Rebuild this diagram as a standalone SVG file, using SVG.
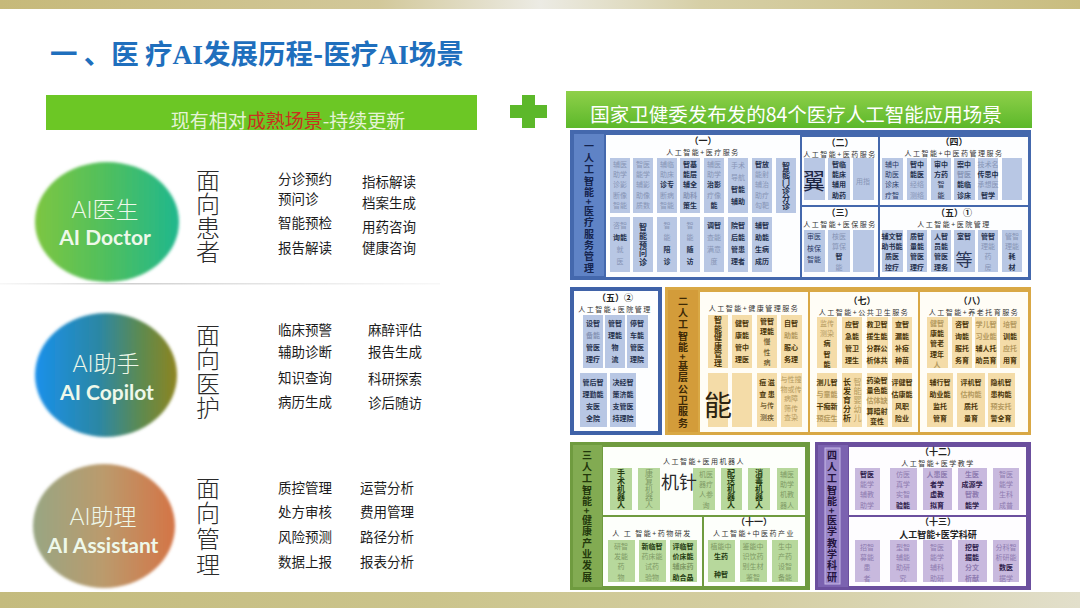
<svg xmlns="http://www.w3.org/2000/svg" width="1080" height="608" viewBox="0 0 1080 608">
<defs>
<linearGradient id="gTop" x1="0" x2="1" y1="0" y2="0"><stop offset="0" stop-color="#c6b97a"/><stop offset="0.35" stop-color="#d2c89a"/><stop offset="0.5" stop-color="#ecebe4"/><stop offset="0.65" stop-color="#d6cfa6"/><stop offset="1" stop-color="#c9bd80"/></linearGradient>
<linearGradient id="gBot" x1="0" x2="1" y1="0" y2="0"><stop offset="0" stop-color="#c4bb7e"/><stop offset="0.4" stop-color="#cbc48c"/><stop offset="0.7" stop-color="#d4cea2"/><stop offset="1" stop-color="#e2dfcb"/></linearGradient>
<linearGradient id="gDoc" x1="0" x2="1" y1="0" y2="0"><stop offset="0" stop-color="#7dc641"/><stop offset="0.5" stop-color="#4fbf5e"/><stop offset="1" stop-color="#1fb78d"/></linearGradient>
<linearGradient id="gCop" x1="0" x2="1" y1="0" y2="0"><stop offset="0" stop-color="#1a90ea"/><stop offset="0.45" stop-color="#2b87a4"/><stop offset="0.75" stop-color="#5e8a4e"/><stop offset="1" stop-color="#8d8420"/></linearGradient>
<linearGradient id="gAss" x1="0" x2="1" y1="0" y2="0"><stop offset="0" stop-color="#98a683"/><stop offset="0.5" stop-color="#bb9a6c"/><stop offset="1" stop-color="#d47446"/></linearGradient>
<linearGradient id="gBar" x1="0" x2="0" y1="0" y2="1"><stop offset="0" stop-color="#8fd04a"/><stop offset="1" stop-color="#5cb82a"/></linearGradient>
<linearGradient id="gLine" x1="0" x2="1" y1="0" y2="0"><stop offset="0" stop-color="#d8d8d8" stop-opacity="0.2"/><stop offset="0.3" stop-color="#cfcfcf"/><stop offset="1" stop-color="#e6e6e6" stop-opacity="0.3"/></linearGradient>
<filter id="soft" x="-10%" y="-10%" width="120%" height="120%"><feGaussianBlur stdDeviation="1.6"/></filter>
<style>
.cjk{font-family:"Noto Sans CJK SC","Noto Sans",sans-serif}
.item{font-family:"Noto Sans CJK SC",sans-serif;font-size:13.5px;fill:#1c1c1c}
.face{font-family:"Noto Sans CJK SC",sans-serif;font-size:24px;font-weight:300;fill:#2a2a2a;text-anchor:middle;writing-mode:vertical-rl}
.en{font-family:Lato,"Open Sans",sans-serif;fill:#eef8ea;text-anchor:middle}
.c{font-family:"Noto Sans CJK SC",sans-serif;font-size:7px;text-anchor:middle}
.v{writing-mode:vertical-rl;font-size:8px}
.d{fill:#26324e;font-weight:700}
.f{fill:#8795b6}
.dg{fill:#4a3508;font-weight:700}
.fg{fill:#b49a60}
.dgr{fill:#253d12;font-weight:700}
.fgr{fill:#7f9a66}
.dp{fill:#2e1c4c;font-weight:700}
.fp{fill:#8e7bb0}
.hd{font-family:"Noto Sans CJK SC",sans-serif;font-size:9px;font-weight:700;text-anchor:middle;fill:#222}
.sub{font-family:"Noto Sans CJK SC",sans-serif;font-size:7px;font-weight:400;text-anchor:middle;fill:#333;letter-spacing:1.5px}
.strip{font-family:"Noto Sans CJK SC",sans-serif;font-size:10px;font-weight:700;text-anchor:middle;writing-mode:vertical-rl;letter-spacing:1.4px}
.cb{fill:#b8c7e4}
.cy{fill:#f4dca8}
.cgn{fill:#b7d89c}
.cpu{fill:#c8b9de}
</style>
</defs>

<rect x="0" y="0" width="1080" height="608" fill="#ffffff"/>
<rect x="0" y="0" width="1080" height="9" fill="url(#gTop)"/>
<rect x="0" y="592" width="1080" height="16" fill="url(#gBot)"/>

<g id="title">
<text x="50" y="64" class="cjk" font-size="27.5" font-weight="700" fill="#1f6fbd">一 、医 疗<tspan font-family="'Liberation Serif',serif">AI</tspan>发展历程-医疗<tspan font-family="'Liberation Serif',serif">AI</tspan>场景</text>
</g>

<g id="bar-left">
<rect x="46" y="95" width="431" height="35" fill="#6cc725"/>
<text x="288" y="128" class="cjk" font-size="19" text-anchor="middle" fill="#e4f3d6">现有相对<tspan fill="#c8321e">成熟场景</tspan>-持续更新</text>
</g>

<g id="plus">
<rect x="522" y="95" width="13" height="33" fill="#5cb82a"/>
<rect x="510" y="105" width="37" height="13" fill="#5cb82a"/>
</g>

<g id="bar-right">
<rect x="566" y="91" width="466" height="37" fill="url(#gBar)"/>
<text x="796" y="122" class="cjk" font-size="19.5" text-anchor="middle" fill="#ffffff">国家卫健委发布发的84个医疗人工智能应用场景</text>
</g>

<rect x="0" y="283" width="440" height="1.5" fill="url(#gLine)"/>

<g id="ai-doctor">
<ellipse cx="107" cy="222" rx="72" ry="60" fill="url(#gDoc)" filter="url(#soft)"/>
<text x="105" y="217.5" class="en" font-size="23" font-weight="300">AI<tspan font-family="'Noto Sans CJK SC',sans-serif">医生</tspan></text>
<text x="105" y="245" class="en" font-size="21" font-weight="700">AI Doctor</text>
</g>
<g id="face-patient">
<text class="face" x="208" y="216">面向患者</text>
</g>
<g id="items-patient">
<text class="item" x="278" y="184">分诊预约</text>
<text class="item" x="278" y="204">预问诊</text>
<text class="item" x="278" y="228">智能预检</text>
<text class="item" x="278" y="253">报告解读</text>
<text class="item" x="362" y="187">指标解读</text>
<text class="item" x="362" y="208">档案生成</text>
<text class="item" x="362" y="232">用药咨询</text>
<text class="item" x="362" y="253">健康咨询</text>
</g>

<g id="ai-copilot">
<ellipse cx="106" cy="375" rx="71" ry="62" fill="url(#gCop)" filter="url(#soft)"/>
<text x="106" y="372" class="en" font-size="23" font-weight="300">AI<tspan font-family="'Noto Sans CJK SC',sans-serif">助手</tspan></text>
<text x="107" y="399.5" class="en" font-size="21" font-weight="700">AI Copilot</text>
</g>
<g id="face-staff">
<text class="face" x="208" y="371.5" letter-spacing="0.4">面向医护</text>
</g>
<g id="items-staff">
<text class="item" x="278" y="335">临床预警</text>
<text class="item" x="278" y="357">辅助诊断</text>
<text class="item" x="278" y="383">知识查询</text>
<text class="item" x="278" y="407">病历生成</text>
<text class="item" x="368" y="335">麻醉评估</text>
<text class="item" x="368" y="357">报告生成</text>
<text class="item" x="368" y="384">科研探索</text>
<text class="item" x="368" y="408">诊后随访</text>
</g>

<g id="ai-assistant">
<ellipse cx="104" cy="526" rx="71" ry="62" fill="url(#gAss)" filter="url(#soft)"/>
<text x="103" y="525" class="en" font-size="23" font-weight="300">AI<tspan font-family="'Noto Sans CJK SC',sans-serif">助理</tspan></text>
<text x="103" y="552.5" class="en" font-size="21" font-weight="700">AI Assistant</text>
</g>
<g id="face-mgmt">
<text class="face" x="208" y="527" letter-spacing="1.7">面向管理</text>
</g>
<g id="items-mgmt">
<text class="item" x="278" y="493">质控管理</text>
<text class="item" x="278" y="517">处方审核</text>
<text class="item" x="278" y="542">风险预测</text>
<text class="item" x="278" y="567">数据上报</text>
<text class="item" x="360" y="493">运营分析</text>
<text class="item" x="360" y="517">费用管理</text>
<text class="item" x="360" y="542">路径分析</text>
<text class="item" x="360" y="567">报表分析</text>
</g>

<!-- Block 1: medical service management -->
<g id="block-medical">
<rect x="570" y="130" width="461" height="150" fill="#4468ad"/>
<rect x="574" y="134" width="30" height="142" fill="#5f83c6"/>
<text class="strip" x="589" y="208" fill="#15244e">一人工智能+医疗服务管理</text>
<rect x="606" y="135" width="194" height="142" fill="#fdfeff"/>
<rect x="802" y="137" width="76" height="68" fill="#fdfeff"/>
<rect x="802" y="207" width="76" height="70" fill="#fdfeff"/>
<rect x="880" y="137" width="148" height="68" fill="#fdfeff"/>
<rect x="880" y="207" width="148" height="70" fill="#fdfeff"/>

<text class="hd" x="703" y="144">（一）</text>
<text class="sub" x="703" y="155">人工智能+医疗服务</text>
<rect class="cb" x="610" y="158" width="20" height="55"/><rect class="cb" x="633" y="158" width="20" height="55"/><rect class="cb" x="657" y="158" width="20" height="55"/><rect class="cb" x="680" y="158" width="20" height="55"/><rect class="cb" x="704" y="158" width="20" height="55"/><rect class="cb" x="728" y="158" width="20" height="55"/><rect class="cb" x="752" y="158" width="20" height="55"/><rect class="cb" x="776" y="158" width="20" height="55"/>
<text class="c f" x="620" y="167"><tspan x="620">辅医</tspan><tspan x="620" dy="10.2">助学</tspan><tspan x="620" dy="10.2">诊影</tspan><tspan x="620" dy="10.2">断像</tspan><tspan x="620" dy="10.2">智能</tspan></text>
<text class="c f" x="643" y="167"><tspan x="643">智医</tspan><tspan x="643" dy="10.2">能学</tspan><tspan x="643" dy="10.2">辅影</tspan><tspan x="643" dy="10.2">助像</tspan><tspan x="643" dy="10.2">质数</tspan></text>
<text class="c f" x="667" y="167"><tspan x="667">辅临</tspan><tspan x="667" dy="10.2">助床</tspan><tspan x="667" dy="10.2" class="d">诊专</tspan><tspan x="667" dy="10.2">断病</tspan><tspan x="667" dy="10.2">智能</tspan></text>
<text class="c d" x="690" y="167"><tspan x="690">智基</tspan><tspan x="690" dy="10.2">能层</tspan><tspan x="690" dy="10.2">辅全</tspan><tspan x="690" dy="10.2" class="f">助科</tspan><tspan x="690" dy="10.2">策生</tspan></text>
<text class="c f" x="714" y="167"><tspan x="714">辅医</tspan><tspan x="714" dy="10.2">助学</tspan><tspan x="714" dy="10.2" class="d">治影</tspan><tspan x="714" dy="10.2">疗像</tspan><tspan x="714" dy="10.2" class="d">能</tspan></text>
<text class="c f" x="738" y="168"><tspan x="738">手术</tspan><tspan x="738" dy="12">导航</tspan><tspan x="738" dy="12" class="d">智能</tspan><tspan x="738" dy="12" class="d">辅助</tspan></text>
<text class="c f" x="762" y="167"><tspan x="762" class="d">智放</tspan><tspan x="762" dy="10.2">能射</tspan><tspan x="762" dy="10.2">辅治</tspan><tspan x="762" dy="10.2">助疗</tspan><tspan x="762" dy="10.2">勾靶</tspan></text>
<text class="c d v" x="786" y="185.5" font-size="8.5">智能门诊分诊</text>

<rect class="cb" x="610" y="217" width="20" height="55"/><rect class="cb" x="633" y="217" width="20" height="55"/><rect class="cb" x="657" y="217" width="20" height="55"/><rect class="cb" x="680" y="217" width="20" height="55"/><rect class="cb" x="704" y="217" width="20" height="55"/><rect class="cb" x="728" y="217" width="20" height="55"/><rect class="cb" x="752" y="217" width="20" height="55"/>
<text class="c f" x="620" y="228"><tspan x="620">咨智</tspan><tspan x="620" dy="12" class="d">询能</tspan><tspan x="620" dy="12">就</tspan><tspan x="620" dy="12">医</tspan></text>
<text class="c d v" x="643" y="245" font-size="9" letter-spacing="0.8">智能预问诊</text>
<text class="c f" x="667" y="228"><tspan x="667">智</tspan><tspan x="667" dy="12">能</tspan><tspan x="667" dy="12" class="d">陪</tspan><tspan x="667" dy="12" class="d">诊</tspan></text>
<text class="c f" x="690" y="228"><tspan x="690">智</tspan><tspan x="690" dy="12">能</tspan><tspan x="690" dy="12" class="d">随</tspan><tspan x="690" dy="12" class="d">访</tspan></text>
<text class="c f" x="714" y="228"><tspan x="714" class="d">调智</tspan><tspan x="714" dy="12">查能</tspan><tspan x="714" dy="12">满意</tspan><tspan x="714" dy="12">度</tspan></text>
<text class="c d" x="738" y="228"><tspan x="738">院智</tspan><tspan x="738" dy="12">后能</tspan><tspan x="738" dy="12">管患</tspan><tspan x="738" dy="12">理者</tspan></text>
<text class="c d" x="762" y="228"><tspan x="762">辅智</tspan><tspan x="762" dy="12">助能</tspan><tspan x="762" dy="12">生病</tspan><tspan x="762" dy="12">成历</tspan></text>

<text class="hd" x="840" y="146">（二）</text>
<text class="sub" x="840" y="157">人工智能+医药服务</text>
<rect class="cb" x="804" y="158" width="21" height="42"/><rect class="cb" x="828" y="158" width="22" height="42"/><rect class="cb" x="853" y="158" width="21" height="42"/>
<text class="cjk" x="814" y="189" font-size="22" text-anchor="middle" fill="#1b2340">翼</text>
<text class="c d" x="839" y="167"><tspan x="839">智临</tspan><tspan x="839" dy="10.2">能床</tspan><tspan x="839" dy="10.2">辅用</tspan><tspan x="839" dy="10.2">助药</tspan></text>
<text class="c f" x="863" y="184">用指</text>

<text class="hd" x="840" y="216">（三）</text>
<text class="sub" x="840" y="227">人工智能+医保服务</text>
<rect class="cb" x="804" y="230" width="21" height="42"/><rect class="cb" x="828" y="230" width="22" height="42"/><rect class="cb" x="853" y="230" width="21" height="42"/>
<text class="c" x="814" y="239" fill="#2a3a66" font-size="8"><tspan x="814">审医</tspan><tspan x="814" dy="11.6">核保</tspan><tspan x="814" dy="11.6">智能</tspan></text>
<text class="c f" x="839" y="239"><tspan x="839">核医</tspan><tspan x="839" dy="10.2">算保</tspan><tspan x="839" dy="10.2" class="d">智</tspan><tspan x="839" dy="10.2">能</tspan></text>

<text class="hd" x="954" y="145">（四）</text>
<text class="sub" x="954" y="156">人工智能+中医药管理服务</text>
<rect class="cb" x="882" y="158" width="21" height="42"/><rect class="cb" x="907" y="158" width="20" height="42"/><rect class="cb" x="931" y="158" width="20" height="42"/><rect class="cb" x="954" y="158" width="21" height="42"/><rect class="cb" x="978" y="158" width="20" height="42"/><rect class="cb" x="1002" y="158" width="20" height="42"/>
<text class="c" x="892" y="167" fill="#2a3a66"><tspan x="892">辅中</tspan><tspan x="892" dy="10.2">助医</tspan><tspan x="892" dy="10.2">诊床</tspan><tspan x="892" dy="10.2">疗智</tspan></text>
<text class="c f" x="917" y="167"><tspan x="917" class="d">智中</tspan><tspan x="917" dy="10.2" class="d">能医</tspan><tspan x="917" dy="10.2">经络</tspan><tspan x="917" dy="10.2">测络</tspan></text>
<text class="c d" x="941" y="167"><tspan x="941">审中</tspan><tspan x="941" dy="10.2">方药</tspan><tspan x="941" dy="10.2" font-weight="400">智</tspan><tspan x="941" dy="10.2" font-weight="400">能</tspan></text>
<text class="c d" x="964" y="167"><tspan x="964">案中</tspan><tspan x="964" dy="10.2" class="f">智医</tspan><tspan x="964" dy="10.2">能临</tspan><tspan x="964" dy="10.2">诊床</tspan></text>
<text class="c f" x="988" y="167"><tspan x="988">技术名</tspan><tspan x="988" dy="10.2" class="d">传思中</tspan><tspan x="988" dy="10.2">承想医</tspan><tspan x="988" dy="10.2" class="d">智学</tspan></text>

<text class="hd" x="954" y="216">（五）①</text>
<text class="sub" x="954" y="227">人工智能+医院管理</text>
<rect class="cb" x="882" y="230" width="21" height="42"/><rect class="cb" x="907" y="230" width="20" height="42"/><rect class="cb" x="931" y="230" width="20" height="42"/><rect class="cb" x="954" y="230" width="21" height="42"/><rect class="cb" x="978" y="230" width="20" height="42"/><rect class="cb" x="1002" y="230" width="20" height="42"/>
<text class="c d" x="892" y="239"><tspan x="892">辅文智</tspan><tspan x="892" dy="10.2">助书能</tspan><tspan x="892" dy="10.2">质医</tspan><tspan x="892" dy="10.2">控疗</tspan></text>
<text class="c d" x="917" y="239"><tspan x="917">质智</tspan><tspan x="917" dy="10.2">量能</tspan><tspan x="917" dy="10.2">管医</tspan><tspan x="917" dy="10.2">理疗</tspan></text>
<text class="c d" x="941" y="239"><tspan x="941">人智</tspan><tspan x="941" dy="10.2">员能</tspan><tspan x="941" dy="10.2">管医</tspan><tspan x="941" dy="10.2">理务</tspan></text>
<text class="c d" x="964" y="239">室智</text>
<text class="cjk" x="964" y="266" font-size="17" text-anchor="middle" fill="#2a3656">等</text>
<text class="c f" x="988" y="239"><tspan x="988" class="d">管智</tspan><tspan x="988" dy="10.2">理能</tspan><tspan x="988" dy="10.2">药</tspan><tspan x="988" dy="10.2">房</tspan></text>
<text class="c f" x="1012" y="239"><tspan x="1012">管智</tspan><tspan x="1012" dy="10.2">理能</tspan><tspan x="1012" dy="10.2" class="d">耗</tspan><tspan x="1012" dy="10.2" class="d">材</tspan></text>
</g>

<!-- Block (五)② hospital management -->
<g id="block-hospital">
<rect x="570" y="287" width="92" height="148" fill="#3f62a8"/>
<rect x="574" y="291" width="84" height="140" fill="#fdfeff"/>
<text class="hd" x="615" y="301">（五）②</text>
<text class="sub" x="615" y="312" font-weight="700" letter-spacing="0.5">人工智能+医院管理</text>
<rect class="cb" x="583" y="315" width="20" height="53"/><rect class="cb" x="605" y="315" width="20" height="53"/><rect class="cb" x="627" y="315" width="21" height="53"/>
<text class="c d" x="593" y="326"><tspan x="593">设智</tspan><tspan x="593" dy="12" class="f">备能</tspan><tspan x="593" dy="12">管医</tspan><tspan x="593" dy="12">理疗</tspan></text>
<text class="c d" x="615" y="326"><tspan x="615">管智</tspan><tspan x="615" dy="12">理能</tspan><tspan x="615" dy="12">物</tspan><tspan x="615" dy="12">流</tspan></text>
<text class="c d" x="637" y="326"><tspan x="637">停智</tspan><tspan x="637" dy="12">车能</tspan><tspan x="637" dy="12">管医</tspan><tspan x="637" dy="12">理院</tspan></text>
<rect class="cb" x="580" y="373" width="27" height="54"/><rect class="cb" x="610" y="373" width="26" height="54"/>
<text class="c d" x="593" y="385"><tspan x="593">管后智</tspan><tspan x="593" dy="12">理勤能</tspan><tspan x="593" dy="12">安医</tspan><tspan x="593" dy="12">全院</tspan></text>
<text class="c d" x="623" y="385"><tspan x="623">决经智</tspan><tspan x="623" dy="12">策济能</tspan><tspan x="623" dy="12">支管医</tspan><tspan x="623" dy="12">持理院</tspan></text>
</g>

<!-- Block 2: primary public health -->
<g id="block-primary">
<rect x="665" y="287" width="366" height="148" fill="#d9a845"/>
<rect x="668" y="290" width="30" height="142" fill="#d39c3a"/>
<text class="strip" x="683" y="363" fill="#3e2a06">二人工智能+基层公卫服务</text>
<rect x="700" y="292" width="108" height="140" fill="#fffdf6"/>
<rect x="810" y="292" width="108" height="140" fill="#fffdf6"/>
<rect x="920" y="292" width="108" height="140" fill="#fffdf6"/>

<text class="sub" x="754" y="311">人工智能+健康管理服务</text>
<rect class="cy" x="708" y="315" width="20" height="53"/><rect class="cy" x="732" y="315" width="20" height="53"/><rect class="cy" x="757" y="315" width="20" height="53"/><rect class="cy" x="781" y="315" width="21" height="53"/>
<text class="c dg v" x="718" y="341.5" letter-spacing="0.5">智能健康管理</text>
<text class="c dg" x="742" y="326"><tspan x="742">健智</tspan><tspan x="742" dy="12">康能</tspan><tspan x="742" dy="12">管中</tspan><tspan x="742" dy="12">理医</tspan></text>
<text class="c dg" x="767" y="324"><tspan x="767">管智</tspan><tspan x="767" dy="10.2">理能</tspan><tspan x="767" dy="10.2" font-weight="400">慢</tspan><tspan x="767" dy="10.2" font-weight="400">性</tspan><tspan x="767" dy="10.2" font-weight="400">病</tspan></text>
<text class="c dg" x="791" y="326"><tspan x="791">自智</tspan><tspan x="791" dy="12" class="fg">助能</tspan><tspan x="791" dy="12">服心</tspan><tspan x="791" dy="12">务理</tspan></text>
<rect class="cy" x="708" y="373" width="20" height="54"/><rect class="cy" x="732" y="373" width="20" height="54"/><rect class="cy" x="757" y="373" width="20" height="54"/><rect class="cy" x="781" y="373" width="21" height="54"/>
<text class="cjk" x="718" y="416" font-size="28" text-anchor="middle" fill="#2b2210">能</text>
<text class="c dg" x="767" y="385" font-size="8"><tspan x="767">痘 滋</tspan><tspan x="767" dy="11.6">查 患</tspan><tspan x="767" dy="11.6" font-weight="400">与传</tspan><tspan x="767" dy="11.6" font-weight="400">测疾</tspan></text>
<text class="c fg" x="791" y="382" font-size="6.5"><tspan x="791">与性搜</tspan><tspan x="791" dy="9.5">物或传</tspan><tspan x="791" dy="9.5">病障</tspan><tspan x="791" dy="9.5">筛传</tspan><tspan x="791" dy="9.5">查染</tspan></text>

<text class="hd" x="862" y="304">（七）</text>
<text class="sub" x="864" y="315">人工智能+公共卫生服务</text>
<rect class="cy" x="817" y="317" width="20" height="51"/><rect class="cy" x="842" y="317" width="20" height="51"/><rect class="cy" x="867" y="317" width="21" height="51"/><rect class="cy" x="892" y="317" width="20" height="51"/>
<text class="c fg" x="827" y="326"><tspan x="827">监传</tspan><tspan x="827" dy="10.2">测染</tspan><tspan x="827" dy="10.2" class="dg">病</tspan><tspan x="827" dy="10.2" class="dg">智</tspan><tspan x="827" dy="10.2" class="dg">能</tspan></text>
<text class="c dg" x="852" y="327"><tspan x="852">应智</tspan><tspan x="852" dy="12">急能</tspan><tspan x="852" dy="12">管卫</tspan><tspan x="852" dy="12">理生</tspan></text>
<text class="c dg" x="877" y="327"><tspan x="877">救卫智</tspan><tspan x="877" dy="12">援生能</tspan><tspan x="877" dy="12">分群公</tspan><tspan x="877" dy="12">析体共</tspan></text>
<text class="c dg" x="902" y="327"><tspan x="902">查智</tspan><tspan x="902" dy="12">漏能</tspan><tspan x="902" dy="12">补疫</tspan><tspan x="902" dy="12">种苗</tspan></text>
<rect class="cy" x="817" y="373" width="20" height="54"/><rect class="cy" x="842" y="373" width="20" height="54"/><rect class="cy" x="867" y="373" width="21" height="54"/><rect class="cy" x="892" y="373" width="20" height="54"/>
<text class="c dg" x="827" y="385"><tspan x="827">测儿智</tspan><tspan x="827" dy="12" class="fg">与童能</tspan><tspan x="827" dy="12">干痴新</tspan><tspan x="827" dy="12" class="fg">预症生</tspan></text>
<text class="c dg v" x="847" y="400" letter-spacing="1">长发育分析</text>
<text class="c fg v" x="857.5" y="400" font-size="6" letter-spacing="1">智能婴幼儿</text>
<text class="c dg" x="877" y="383"><tspan x="877">药染智</tspan><tspan x="877" dy="10.2">量色能</tspan><tspan x="877" dy="10.2" class="fg">估体缺</tspan><tspan x="877" dy="10.2">算暗射</tspan><tspan x="877" dy="10.2">变性</tspan></text>
<text class="c dg" x="902" y="385"><tspan x="902">评健智</tspan><tspan x="902" dy="12">估康能</tspan><tspan x="902" dy="12">风职</tspan><tspan x="902" dy="12">险业</tspan></text>

<text class="hd" x="972" y="304">（八）</text>
<text class="sub" x="974" y="315">人工智能+养老托育服务</text>
<rect class="cy" x="927" y="317" width="21" height="51"/><rect class="cy" x="952" y="317" width="20" height="51"/><rect class="cy" x="975" y="317" width="22" height="51"/><rect class="cy" x="1000" y="317" width="20" height="51"/>
<text class="c dg" x="937" y="326"><tspan x="937" class="fg">健智</tspan><tspan x="937" dy="10.2">康能</tspan><tspan x="937" dy="10.2">管老</tspan><tspan x="937" dy="10.2">理年</tspan><tspan x="937" dy="10.2" class="fg">人</tspan></text>
<text class="c dg" x="962" y="327"><tspan x="962">咨智</tspan><tspan x="962" dy="12">询能</tspan><tspan x="962" dy="12">服托</tspan><tspan x="962" dy="12">务育</tspan></text>
<text class="c dg" x="986" y="327"><tspan x="986" class="fg">学儿智</tspan><tspan x="986" dy="12" class="fg">习业能</tspan><tspan x="986" dy="12">辅人托</tspan><tspan x="986" dy="12">助员育</tspan></text>
<text class="c dg" x="1010" y="327"><tspan x="1010" class="fg">培智</tspan><tspan x="1010" dy="12">训能</tspan><tspan x="1010" dy="12" class="fg">应托</tspan><tspan x="1010" dy="12">用育</tspan></text>
<rect class="cy" x="927" y="373" width="26" height="54"/><rect class="cy" x="957" y="373" width="28" height="54"/><rect class="cy" x="988" y="373" width="27" height="54"/>
<text class="c dg" x="940" y="385"><tspan x="940">辅行智</tspan><tspan x="940" dy="12">助业能</tspan><tspan x="940" dy="12">监托</tspan><tspan x="940" dy="12">管育</tspan></text>
<text class="c dg" x="971" y="385"><tspan x="971">评机智</tspan><tspan x="971" dy="12" class="fg">估构能</tspan><tspan x="971" dy="12">质托</tspan><tspan x="971" dy="12">量育</tspan></text>
<text class="c dg" x="1001" y="385"><tspan x="1001">隐机智</tspan><tspan x="1001" dy="12">患构能</tspan><tspan x="1001" dy="12" class="fg">预安托</tspan><tspan x="1001" dy="12">警全育</tspan></text>
</g>

<!-- Block 3: health industry -->
<g id="block-industry">
<rect x="570" y="442" width="240" height="148" fill="#6f9b3f"/>
<rect x="573" y="445" width="29" height="142" fill="#82ab52"/>
<text class="strip" x="587" y="517" fill="#22380c">三人工智能+健康产业发展</text>
<rect x="603" y="447" width="202" height="68" fill="#fdfffb"/>
<rect x="603" y="517" width="99" height="69" fill="#fdfffb"/>
<rect x="704" y="517" width="101" height="69" fill="#fdfffb"/>

<text class="sub" x="704" y="464">人工智能+医用机器人</text>
<rect class="cgn" x="610" y="468" width="22" height="42"/><rect class="cgn" x="638" y="468" width="22" height="42"/><rect class="cgn" x="693" y="468" width="22" height="42"/><rect class="cgn" x="721" y="468" width="21" height="42"/><rect class="cgn" x="748" y="468" width="22" height="42"/><rect class="cgn" x="777" y="468" width="21" height="42"/>
<text class="c dgr v" x="621" y="489" letter-spacing="0.2">手术机器人</text>
<text class="c fgr v" x="649" y="489" letter-spacing="0.2">康复机器人</text>
<text class="cjk" x="661" y="489" font-size="18" fill="#2a2a2a">机针</text>
<text class="c fgr" x="706" y="477"><tspan x="706">机医</tspan><tspan x="706" dy="10.2">器疗</tspan><tspan x="706" dy="10.2">人参</tspan><tspan x="706" dy="10.2">询</tspan></text>
<text class="c dgr v" x="731" y="489" letter-spacing="0.2">配送机器人</text>
<text class="c dgr v" x="759" y="489" letter-spacing="0.2">消毒机器人</text>
<text class="c fgr" x="787" y="477"><tspan x="787">辅医</tspan><tspan x="787" dy="10.2">助学</tspan><tspan x="787" dy="10.2">机教</tspan><tspan x="787" dy="10.2">器人</tspan></text>

<text class="sub" x="652" y="536">人 工 智能+药物研发</text>
<rect class="cgn" x="608" y="540" width="27" height="42"/><rect class="cgn" x="639" y="540" width="27" height="42"/><rect class="cgn" x="670" y="540" width="27" height="42"/>
<text class="c fgr" x="621" y="549"><tspan x="621">研智</tspan><tspan x="621" dy="10.2">发能</tspan><tspan x="621" dy="10.2">药</tspan><tspan x="621" dy="10.2">物</tspan></text>
<text class="c fgr" x="652" y="549"><tspan x="652" class="dgr">新临智</tspan><tspan x="652" dy="10.2">药床能</tspan><tspan x="652" dy="10.2">试药</tspan><tspan x="652" dy="10.2">验物</tspan></text>
<text class="c dgr" x="683" y="549"><tspan x="683">评临智</tspan><tspan x="683" dy="10.2">价床能</tspan><tspan x="683" dy="10.2" class="fgr">辅床药</tspan><tspan x="683" dy="10.2">助合晶</tspan></text>

<text class="hd" x="754" y="525">（十一）</text>
<text class="sub" x="754" y="536">人工智能+中医药产业</text>
<rect class="cgn" x="708" y="540" width="27" height="42"/><rect class="cgn" x="740" y="540" width="27" height="42"/><rect class="cgn" x="772" y="540" width="26" height="42"/>
<text class="c fgr" x="721" y="549"><tspan x="721">植能中</tspan><tspan x="721" dy="10.2" class="dgr">生药</tspan><tspan x="721" dy="18" class="dgr">种智</tspan></text>
<text class="c fgr" x="753" y="549"><tspan x="753">鉴能中</tspan><tspan x="753" dy="10.2">识饮药</tspan><tspan x="753" dy="10.2">别生材</tspan><tspan x="753" dy="10.2">鉴智</tspan></text>
<text class="c fgr" x="785" y="549"><tspan x="785">生中</tspan><tspan x="785" dy="10.2">产药</tspan><tspan x="785" dy="10.2">设智</tspan><tspan x="785" dy="10.2">备能</tspan></text>
</g>

<!-- Block 4: medical education & research -->
<g id="block-education">
<rect x="815" y="442" width="216" height="148" fill="#6b4f9e"/>
<rect x="818" y="445" width="30" height="142" fill="#7b62b0"/>
<rect x="825" y="448" width="15" height="136" fill="#9a86c9" stroke="#c6b8e6" stroke-width="1"/>
<text class="strip" x="832" y="517" fill="#24143e" letter-spacing="1.3">四人工智能+医学教学科研</text>
<rect x="849" y="447" width="177" height="68" fill="#fefdff"/>
<rect x="849" y="517" width="177" height="69" fill="#fefdff"/>

<text class="hd" x="938" y="455">（十二）</text>
<text class="sub" x="938" y="466">人工智能+医学教学</text>
<rect class="cpu" x="855" y="468" width="25" height="42"/><rect class="cpu" x="890" y="468" width="27" height="42"/><rect class="cpu" x="923" y="468" width="29" height="42"/><rect class="cpu" x="958" y="468" width="29" height="42"/><rect class="cpu" x="993" y="468" width="26" height="42"/>
<text class="c fp" x="867" y="477"><tspan x="867" class="dp">智医</tspan><tspan x="867" dy="10.2">能学</tspan><tspan x="867" dy="10.2">辅教</tspan><tspan x="867" dy="10.2">助学</tspan></text>
<text class="c fp" x="903" y="477"><tspan x="903">仿医</tspan><tspan x="903" dy="10.2">真学</tspan><tspan x="903" dy="10.2">实智</tspan><tspan x="903" dy="10.2" class="dp">验能</tspan></text>
<text class="c dp" x="937" y="477"><tspan x="937" class="fp">人患医</tspan><tspan x="937" dy="10.2">者学</tspan><tspan x="937" dy="10.2">虚教</tspan><tspan x="937" dy="10.2">拟育</tspan></text>
<text class="c dp" x="972" y="477"><tspan x="972" class="fp">生医</tspan><tspan x="972" dy="10.2">成源学</tspan><tspan x="972" dy="10.2" class="fp">智教</tspan><tspan x="972" dy="10.2">能学</tspan></text>
<text class="c fp" x="1006" y="477"><tspan x="1006">智医</tspan><tspan x="1006" dy="10.2">能学</tspan><tspan x="1006" dy="10.2">生科</tspan><tspan x="1006" dy="10.2">成普</tspan></text>

<text class="hd" x="938" y="524.5">（十三）</text>
<text class="hd" x="938" y="538">人工智能+医学科研</text>
<rect class="cpu" x="855" y="540" width="25" height="42"/><rect class="cpu" x="890" y="540" width="27" height="42"/><rect class="cpu" x="923" y="540" width="29" height="42"/><rect class="cpu" x="958" y="540" width="29" height="42"/><rect class="cpu" x="993" y="540" width="26" height="42"/>
<text class="c fp" x="867" y="550"><tspan x="867">招智</tspan><tspan x="867" dy="10.2">募能</tspan><tspan x="867" dy="10.2">患</tspan><tspan x="867" dy="10.2">者</tspan></text>
<text class="c fp" x="903" y="550"><tspan x="903">型智</tspan><tspan x="903" dy="10.2">辅能</tspan><tspan x="903" dy="10.2">助研</tspan><tspan x="903" dy="10.2">究</tspan></text>
<text class="c fp" x="937" y="550"><tspan x="937">智医</tspan><tspan x="937" dy="10.2">能学</tspan><tspan x="937" dy="10.2">辅科</tspan><tspan x="937" dy="10.2">助研</tspan></text>
<text class="c dp" x="972" y="550"><tspan x="972">挖智</tspan><tspan x="972" dy="10.2">掘能</tspan><tspan x="972" dy="10.2" class="fp">分文</tspan><tspan x="972" dy="10.2" class="fp">析献</tspan></text>
<text class="c fp" x="1006" y="550"><tspan x="1006">分科智</tspan><tspan x="1006" dy="10.2">析研能</tspan><tspan x="1006" dy="10.2" class="dp">数医</tspan><tspan x="1006" dy="10.2">据学</tspan></text>
</g>

<g id="connectors"></g>
</svg>
